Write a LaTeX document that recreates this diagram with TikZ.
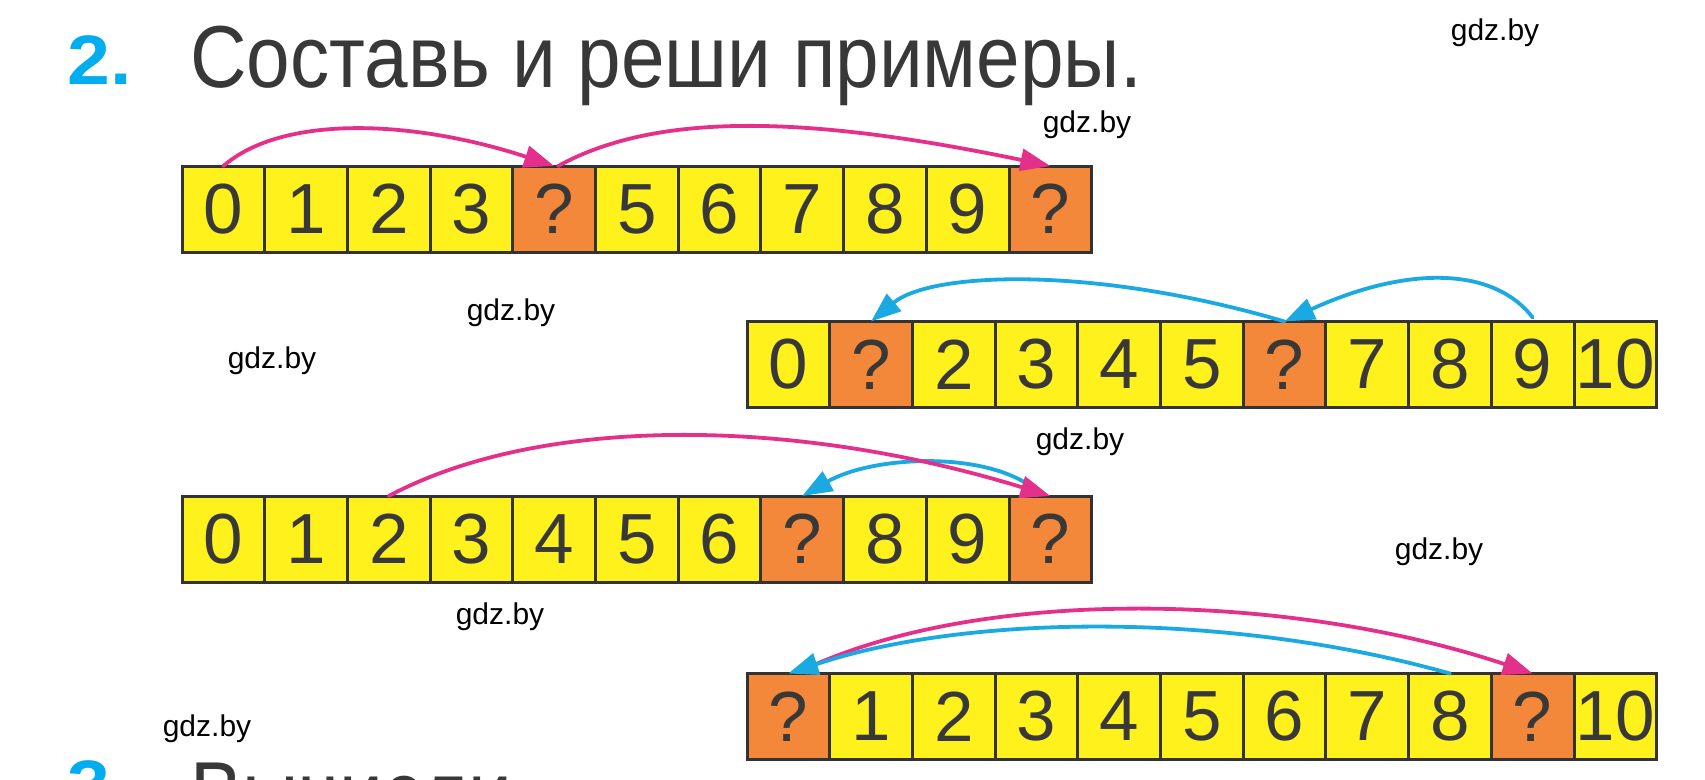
\documentclass[tikz,border=0pt]{standalone}
\usepackage{fontspec}
\setmainfont{Liberation Sans}
\newfontfamily\titlefont[FakeStretch=0.89]{Liberation Sans}
\newfontfamily\numfont[FakeStretch=1.1]{Liberation Sans Bold}
\usetikzlibrary{arrows.meta}
\definecolor{cellY}{HTML}{FFF21C}
\definecolor{cellO}{HTML}{F3883A}
\definecolor{edgec}{HTML}{333333}
\definecolor{inkc}{HTML}{383838}
\definecolor{pinkA}{HTML}{E5308B}
\definecolor{blueA}{HTML}{1BA9E1}
\definecolor{numblue}{HTML}{00AEEF}
\newcommand\digitfont{\fontsize{71}{71}\selectfont}
\newcommand\cellstrip[4]{%
  \foreach \t/\f [count=\i from 0] in {#4}{%
    \node[cellbox, fill=\f] (#1\i) at ({#2+82.7*(\i+0.5)},#3) {\t};
  }}
\tikzset{
  cellbox/.style={draw=edgec, line width=3pt, minimum width=82.7pt, minimum height=86pt,
    inner sep=0pt, outer sep=0pt, font=\digitfont, text=inkc},
  parrow/.style={draw=pinkA, line width=3.8pt, line cap=round, -{Triangle[length=30pt,width=22pt]}},
  barrow/.style={draw=blueA, line width=3.8pt, line cap=round, -{Triangle[length=30pt,width=22pt]}},
  wm/.style={font=\fontsize{30}{30}\selectfont, text=black, inner sep=0pt},
  titletext/.style={anchor=base west, inner sep=0pt, text=inkc, font=\titlefont\fontsize{88}{88}\selectfont},
  numtext/.style={anchor=base west, inner sep=0pt, text=numblue, font=\numfont\fontsize{70}{70}\selectfont}
}
\begin{document}
\begin{tikzpicture}[x=1pt,y=-1pt]
\path[use as bounding box, clip] (0,0) rectangle (1705,779);
\fill[white] (0,0) rectangle (1705,779);

% headings
\node[numtext] (n2) at (67,84) {2.};
\node[titletext] (t2) at (190,87) {Составь и реши примеры.};
\node[numtext] (n3) at (67,809) {3.};
\node[titletext] (t3) at (190,823) {Вычисли.};

% strips
\cellstrip{a}{182}{209}{0/cellY,1/cellY,2/cellY,3/cellY,?/cellO,5/cellY,6/cellY,7/cellY,8/cellY,9/cellY,?/cellO}
\cellstrip{b}{747}{364.5}{0/cellY,?/cellO,2/cellY,3/cellY,4/cellY,5/cellY,?/cellO,7/cellY,8/cellY,9/cellY,10/cellY}
\cellstrip{c}{182}{539}{0/cellY,1/cellY,2/cellY,3/cellY,4/cellY,5/cellY,6/cellY,?/cellO,8/cellY,9/cellY,?/cellO}
\cellstrip{d}{747}{716.5}{?/cellO,1/cellY,2/cellY,3/cellY,4/cellY,5/cellY,6/cellY,7/cellY,8/cellY,?/cellO,10/cellY}

% strip 1 arrows
\draw[parrow] (a0.north) .. controls +(60,-52) and +(-140,-46) .. (a4.north);
\draw[parrow] ([xshift=4pt]a4.north) .. controls +(100,-55) and +(-240,-50) .. (a10.north);

% strip 2 arrows
\draw[barrow] ([yshift=4pt]b9.north) .. controls +(-40,-52) and +(120,-55) .. (b6.north);
\draw[barrow] (b6.north) .. controls +(-190,-56) and +(60,-50) .. (b1.north);

% strip 3 arrows
\draw[barrow] ([shift={(-20,-10)}]c10.north) .. controls +(-50,-35) and +(70,-40) .. (c7.north);
\draw[parrow] (c2.north) .. controls +(150,-80) and +(-260,-80) .. (c10.north);

% strip 4 arrows
\draw[parrow] ([shift={(20,-6)}]d0.north) .. controls +(180,-82) and +(-240,-80) .. (d9.north);
\draw[barrow] (d8.north) .. controls +(-220,-62) and +(180,-60) .. (d0.north);

% watermarks
\node[wm] (w1) at (1495,33) {gdz.by};
\node[wm] (w2) at (1087,125) {gdz.by};
\node[wm] (w3) at (511,313) {gdz.by};
\node[wm] (w4) at (272,361) {gdz.by};
\node[wm] (w5) at (1080,442) {gdz.by};
\node[wm] (w6) at (1439,552) {gdz.by};
\node[wm] (w7) at (500,617) {gdz.by};
\node[wm] (w8) at (207,729) {gdz.by};
\end{tikzpicture}
\end{document}
